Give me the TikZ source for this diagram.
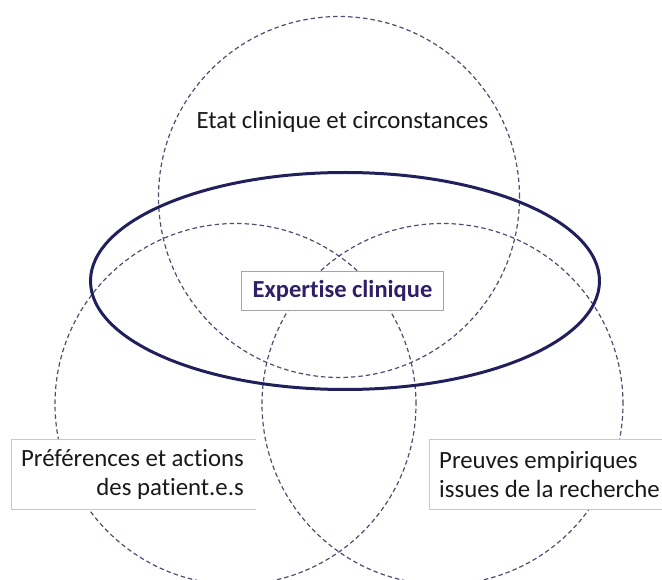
\documentclass[tikz,border=0pt]{standalone}
\usepackage{fontspec}
\setmainfont{Carlito}[Ligatures=NoCommon]
\usetikzlibrary{shapes.geometric}
\definecolor{dashcol}{HTML}{4E4E72}
\definecolor{ellcol}{HTML}{22205C}
\definecolor{expcol}{HTML}{2E1F66}
\definecolor{boxgray}{HTML}{C8C8C8}
\definecolor{expbox}{HTML}{A8A2A8}
\begin{document}
\begin{tikzpicture}[x=1pt,y=-1pt,
  dcircle/.style={circle,draw=dashcol,line width=1.2pt,dash pattern=on 4.5pt off 3pt,minimum size=361pt,inner sep=0pt},
  lbl/.style={font=\fontsize{24.8}{29.3}\selectfont,text=black!90,inner sep=0pt},
  boxline/.style={draw=boxgray,line width=1pt}
]
\useasboundingbox (0,0) rectangle (662,580);
% circles
\node[dcircle] (top) at (339,197) {};
\node[dcircle] (left) at (235.5,404) {};
\node[dcircle] (right) at (442.5,404) {};
% ellipse
\node[ellipse,draw=ellcol,line width=3pt,minimum width=509pt,minimum height=217pt,inner sep=0pt] (exp) at (345,281) {};
% top label
\node[lbl] (etat) at (342.5,122) {Etat clinique et circonstances};
% left box (no right edge)
\fill[white] (11.4,439) rectangle (255.5,509);
\coordinate (lb1) at (255.5,439);
\coordinate (lb2) at (11.4,439);
\coordinate (lb3) at (11.4,509);
\coordinate (lb4) at (255.5,509);
\draw[boxline] (lb1) -- (lb2) -- (lb3) -- (lb4);
\node[lbl,align=right,anchor=east] (pref) at (244,474.5) {Préférences et actions\\des patient.e.s};
% right box (extends beyond edge)
\fill[white] (429.5,439) rectangle (665,509);
\coordinate (rb1) at (665,439);
\coordinate (rb2) at (429.5,439);
\coordinate (rb3) at (429.5,509);
\coordinate (rb4) at (665,509);
\draw[boxline] (rb1) -- (rb2) -- (rb3) -- (rb4);
\node[lbl,align=left,anchor=west] (preuves) at (439,474.5) {Preuves empiriques\\issues de la recherche};
% expertise box
\node[draw=expbox,fill=white,line width=1pt,minimum width=202pt,minimum height=39pt,inner sep=0pt,
  font=\fontsize{24.5}{29}\selectfont\bfseries,text=expcol] (expbox) at (342.5,291) {Expertise clinique};
\end{tikzpicture}
\end{document}
